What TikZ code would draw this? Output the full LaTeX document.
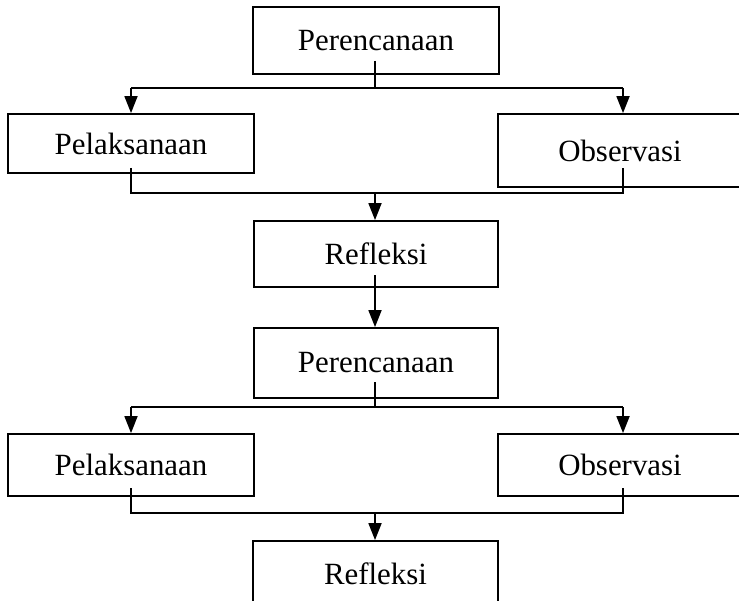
\documentclass[tikz,border=0pt]{standalone}
\usepackage{fontspec}
\setmainfont{Liberation Serif}
\usetikzlibrary{arrows.meta,calc}
\begin{document}
\begin{tikzpicture}[x=1bp,y=-1bp, line width=1.8bp,
  box/.style={draw, rectangle, inner sep=0pt, line width=1.8bp, font=\fontsize{31}{36}\selectfont},
  arr/.style={-{Triangle[width=13bp,length=17bp]}}]
\useasboundingbox (0,0) rectangle (739,601);
% boxes
\node[box, minimum width=246bp, minimum height=67bp] (p1) at (376,40.5) {Perencanaan};
\node[box, minimum width=246bp, minimum height=59bp] (l1) at (131,143.5) {Pelaksanaan};
\node[box, minimum width=244bp, minimum height=73bp] (o1) at (620,150.5) {Observasi};
\node[box, minimum width=244bp, minimum height=66bp] (r1) at (376,254) {Refleksi};
\node[box, minimum width=244bp, minimum height=70bp] (p2) at (376,363) {Perencanaan};
\node[box, minimum width=246bp, minimum height=62bp] (l2) at (131,465) {Pelaksanaan};
\node[box, minimum width=244bp, minimum height=62bp] (o2) at (620,465) {Observasi};
\node[box, minimum width=245bp, minimum height=66bp] (r2) at (375.5,574) {Refleksi};
% junction coordinates
\coordinate (p1in) at (375,61);
\coordinate (j1) at (375,88);
\coordinate (j1l) at (131,88);
\coordinate (j1r) at (623,88);
\coordinate (l1in) at (131,168);
\coordinate (o1in) at (623,168);
\coordinate (m1l) at (131,193);
\coordinate (m1r) at (623,193);
\coordinate (m1) at (375,193);
\coordinate (r1in) at (375,275);
\coordinate (p2in) at (375,382);
\coordinate (j2) at (375,407);
\coordinate (j2l) at (131,407);
\coordinate (j2r) at (623,407);
\coordinate (l2in) at (131,488);
\coordinate (o2in) at (623,488);
\coordinate (m2l) at (131,513);
\coordinate (m2r) at (623,513);
\coordinate (m2) at (375,513);
% connectors, first cycle
\draw (p1in) -- (j1);
\draw (j1l) -- (j1r);
\draw[arr] (j1l) -- (j1l |- l1.north);
\draw[arr] (j1r) -- (j1r |- o1.north);
\draw (l1in) -- (m1l) -- (m1r) -- (o1in);
\draw[arr] (m1) -- (m1 |- r1.north);
\draw[arr] (r1in) -- (r1in |- p2.north);
% second cycle
\draw (p2in) -- (j2);
\draw (j2l) -- (j2r);
\draw[arr] (j2l) -- (j2l |- l2.north);
\draw[arr] (j2r) -- (j2r |- o2.north);
\draw (l2in) -- (m2l) -- (m2r) -- (o2in);
\draw[arr] (m2) -- (m2 |- r2.north);
\end{tikzpicture}
\end{document}
